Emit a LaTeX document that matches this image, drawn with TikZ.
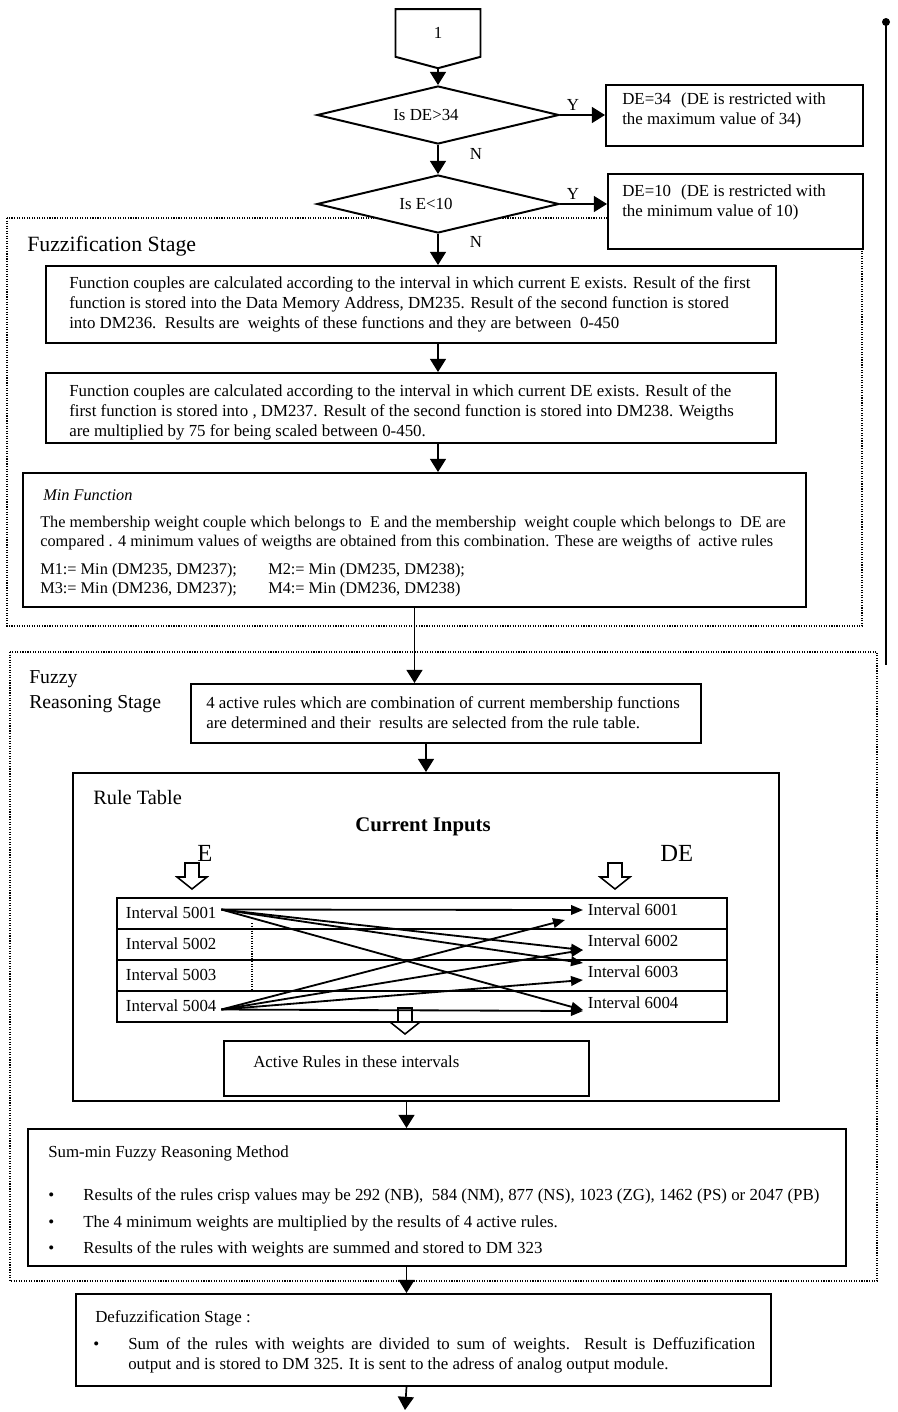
\documentclass[tikz,border=0pt]{standalone}
\usepackage{fontspec}
\setmainfont{Liberation Serif}
\usepackage{tikz}
\usetikzlibrary{shapes.geometric,shapes.symbols,arrows.meta,calc}
\tikzstyle{procbox}=[rectangle, draw, line width=1.4pt, fill=white, anchor=north west, inner sep=0pt]
\tikzstyle{boxtext}=[anchor=north west, inner sep=0pt, align=left, font=\fontsize{12}{14.2}\selectfont]
\tikzstyle{decision}=[diamond, draw, line width=1.4pt, fill=white, minimum width=60.5mm, minimum height=14.5mm, inner sep=0pt]
\tikzstyle{startbox}=[signal, signal to=south, signal pointer angle=150, draw, line width=1.4pt, fill=white, minimum width=21.25mm, minimum height=12.5mm, font=\fontsize{12}{14}\selectfont]
\tikzstyle{stagebox}=[draw, densely dotted, line width=0.8pt]
\tikzstyle{flow}=[line width=1.2pt, -{Triangle[length=3.3mm,width=4mm]}]
\tikzstyle{ruleflow}=[line width=1.3pt, -{Triangle[length=3mm,width=2.4mm]}]
\tikzstyle{lbl}=[inner sep=0pt, font=\fontsize{12}{14}\selectfont]
\tikzstyle{gridrow}=[rectangle, draw, line width=1.1pt, anchor=north west, minimum width=152.5mm, minimum height=7.75mm, inner sep=0pt]
\tikzstyle{interval}=[anchor=west, font=\fontsize{12}{14}\selectfont]
\newcommand{\procbox}[7][]{
	\node[procbox, minimum width=#4, minimum height=#5] (#2) at (#3) {};
	\node[boxtext,#1] (#2t) at ($(#2.north west)+(#6)$) {#7};}
\newcommand{\decision}[3]{
	\node[decision] (#1) at (#2) {};
	\node[lbl] (#1t) at ($(#1)+(-12,0)$) {#3};}
\newcommand{\blockarrow}[1]{
	\draw[line width=1.1pt] (#1) ++(-7,0) -- ++(0,14) -- ++(-8,0) -- ++(15,12) -- ++(15,-12) -- ++(-8,0) -- ++(0,-14) -- cycle;}
\newcommand{\bul}{\makebox[8.75mm][l]{\textbullet}}

\begin{document}
\begin{tikzpicture}[x=0.25mm, y=-0.25mm]
\useasboundingbox (0,0) rectangle (898,1412);
% stages
\draw[stagebox] (7,218) rectangle (862,626);
\draw[stagebox] (10,652) rectangle (877,1281);
\draw[line width=1pt] (886,22) -- (886,665);
\fill (886,22) circle (1mm);
\node[anchor=west, inner sep=0pt, font=\fontsize{15.5}{18}\selectfont] (fzlbl) at (27,246) {Fuzzification Stage};
\node[anchor=west, inner sep=0pt, align=left, font=\fontsize{14}{17.8}\selectfont] (frlbl) at (29,692) {Fuzzy\\Reasoning Stage};
% limits
\node[startbox] (start) at (438,33) {1};
\decision{dia1}{438,115}{Is DE>34}
\decision{dia2}{438,204}{Is E<10}
\procbox{ymax}{605,84}{64.25mm}{15.25mm}{17,9}{DE=34\hspace{2.5mm}(DE is restricted with\\the maximum value of 34)}
\procbox{ymin}{607,173}{63.75mm}{18.75mm}{15,12}{DE=10\hspace{2.5mm}(DE is restricted with\\the minimum value of 10)}
\node[lbl] (y1) at (573,105) {Y};
\node[lbl] (n1) at (476,154) {N};
\node[lbl] (y2) at (573,194) {Y};
\node[lbl] (n2) at (476,242) {N};
% fuzzification
\procbox{fone}{45,265}{182.5mm}{19.25mm}{24,11}{Function couples are calculated according to the interval in which current E exists. Result of the first\\function is stored into the Data Memory Address, DM235. Result of the second function is stored\\into DM236.\ \ Results are\ \ weights of these functions and they are between\ \ 0-450}
\procbox{ftwo}{45,372}{182.5mm}{17.5mm}{24,12}{Function couples are calculated according to the interval in which current DE exists. Result of the\\first function is stored into , DM237. Result of the second function is stored into DM238. Weigths\\are multiplied by 75 for being scaled between 0-450.}
\procbox[font=\fontsize{11.6}{13.6}\selectfont]{minf}{22,472}{195.75mm}{33.5mm}{18,17}{\hspace*{0.75mm}\textit{Min Function}\\[6pt]The membership weight couple which belongs to\ \ E and the membership\ \ weight couple which belongs to\ \ DE are\\compared . 4 minimum values of weigths are obtained from this combination. These are weigths of\ \ active rules\\[6pt]\makebox[57mm][l]{M1:= Min (DM235, DM237);}M2:= Min (DM235, DM238);\\\makebox[57mm][l]{M3:= Min (DM236, DM237);}M4:= Min (DM236, DM238)}
% fuzzy reasoning
\procbox{rone}{190,683}{127.5mm}{14.75mm}{16,13}{4 active rules which are combination of current membership functions\\are determined and their\ \ results are selected from the rule table.}
\node[procbox, minimum width=176.5mm, minimum height=82mm] (rtable) at (72,772) {};
\node[anchor=west, inner sep=0pt, font=\fontsize{14.5}{17}\selectfont] (rtlbl) at (93,798) {Rule Table};
\node[inner sep=0pt, font=\fontsize{14.8}{17}\selectfont\bfseries] (cinputs) at (423,827) {Current Inputs};
\node[anchor=west, inner sep=0pt, font=\fontsize{17.5}{20}\selectfont] (elbl) at (197,853) {E};
\node[anchor=west, inner sep=0pt, font=\fontsize{17.5}{20}\selectfont] (delbl) at (660,853) {DE};
\blockarrow{192,863}
\blockarrow{615,863}
\node[gridrow] (row1) at (116,897) {};
\node[gridrow] (row2) at (116,928) {};
\node[gridrow] (row3) at (116,959) {};
\node[gridrow] (row4) at (116,990) {};
\draw[densely dotted, line width=0.8pt] (252,923) -- (252,993);
\node[interval] (e1) at (121,912.5) {Interval 5001};
\node[interval] (e2) at (121,943.5) {Interval 5002};
\node[interval] (e3) at (121,974.5) {Interval 5003};
\node[interval] (e4) at (121,1005.5) {Interval 5004};
\node[interval] (d1) at (583,910) {Interval 6001};
\node[interval] (d2) at (583,941) {Interval 6002};
\node[interval] (d3) at (583,972) {Interval 6003};
\node[interval] (d4) at (583,1003) {Interval 6004};
\coordinate (o1) at ($(e1.east)+(0,-3)$);
\coordinate (o4) at ($(e4.east)+(0,4)$);
\draw[ruleflow] (o1) -- (d1.west);
\draw[ruleflow] (o1) -- ($(d2.west)+(0,9)$);
\draw[ruleflow] (o1) -- ($(d3.west)+(0,-9)$);
\draw[ruleflow] (o1) -- ($(d4.west)+(0,7)$);
\draw[ruleflow] (o4) -- ($(d1.west)+(-18,10)$);
\draw[ruleflow] (o4) -- ($(d2.west)+(0,9)$);
\draw[ruleflow] (o4) -- ($(d3.west)+(0,8)$);
\draw[ruleflow] (o4) -- ($(d4.west)+(0,8)$);
\blockarrow{405,1008}
\procbox{active}{223,1040}{91.25mm}{13.75mm}{30,15}{Active Rules in these intervals}
\procbox{summin}{27,1128}{204.5mm}{34.25mm}{21,17}{Sum-min Fuzzy Reasoning Method\\[17pt]\bul Results of the rules crisp values may be 292 (NB),\ \ 584 (NM), 877 (NS), 1023 (ZG), 1462 (PS) or 2047 (PB)\\[4.5pt]\bul The 4 minimum weights are multiplied by the results of 4 active rules.\\[4.5pt]\bul Results of the rules with weights are summed and stored to DM 323}
% defuzzification
\procbox{defuzz}{75,1293}{173.75mm}{23mm}{18,17}{\hspace*{0.5mm}Defuzzification Stage :\\[5pt]\bul\makebox[156.75mm][s]{Sum of the rules with weights are divided to sum of weights. Result is Deffuzification}\\\hspace*{8.75mm}output and is stored to DM 325. It is sent to the adress of analog output module.}
\coordinate (out) at (405,1410);
% flow
\draw[flow] (start.south) -- (dia1.north);
\draw[flow] (dia1.east) -- (dia1.east -| ymax.west);
\draw[flow] (dia1.south) -- (dia2.north);
\draw[flow] (dia2.east) -- (dia2.east -| ymin.west);
\draw[flow] (dia2.south) -- (dia2.south |- fone.north);
\draw[flow] (fone.south -| dia2.south) -- (ftwo.north -| dia2.south);
\draw[flow] (ftwo.south -| dia2.south) -- (minf.north -| dia2.south);
\draw[flow] (minf.south) -- (minf.south |- rone.north);
\draw[flow] (rone.south -| rtable.north) -- (rtable.north);
\draw[flow] (rtable.south -| active.south) -- (summin.north -| active.south);
\draw[flow] (summin.south -| active.south) -- (defuzz.north -| active.south);
\draw[flow] (defuzz.south -| active.south) -- (out);
\end{tikzpicture}
\end{document}
